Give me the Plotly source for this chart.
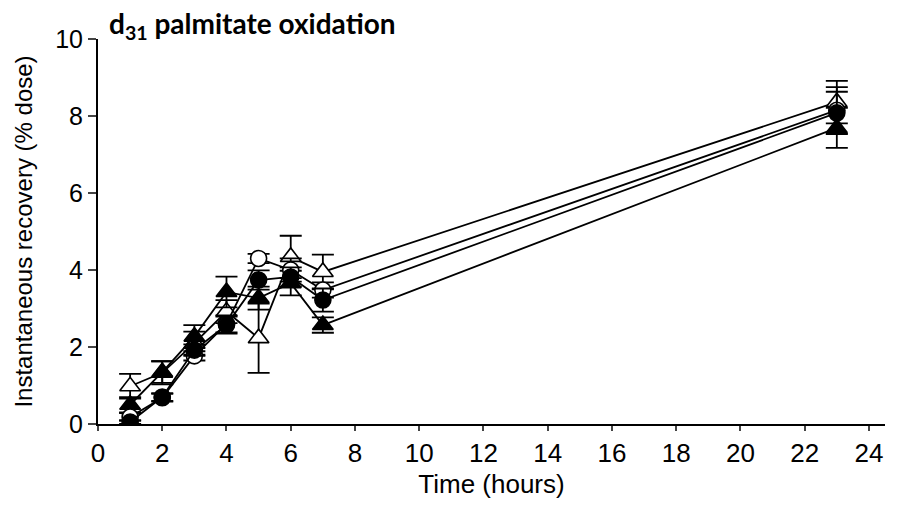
import plotly.graph_objects as go

# Sampling times (hours)
time_h = [1, 2, 3, 4, 5, 6, 7, 23]

# Instantaneous recovery (% dose), mean and SE for each group
open_circle = [0.18, 0.68, 1.77, 2.60, 4.30, 4.00, 3.48, 8.15]
open_circle_err = [0.10, 0.10, 0.12, 0.22, 0.12, 0.30, 0.20, 0.60]

filled_circle = [0.05, 0.70, 1.92, 2.57, 3.74, 3.82, 3.22, 8.08]
filled_circle_err = [0.05, 0.10, 0.15, 0.22, 0.25, 0.25, 0.30, 0.55]

open_triangle = [0.98, 1.33, 2.10, 2.92, 2.23, 4.34, 3.95, 8.36]
open_triangle_err = [0.32, 0.30, 0.30, 0.30, 0.90, 0.55, 0.45, 0.55]

filled_triangle = [0.50, 1.35, 2.27, 3.43, 3.27, 3.66, 2.57, 7.69]
filled_triangle_err = [0.20, 0.28, 0.30, 0.40, 0.30, 0.32, 0.20, 0.52]

x_ticks = list(range(0, 25, 2))
y_ticks = list(range(0, 11, 2))

series = [
    ("Open triangle", open_triangle, open_triangle_err, "triangle-up", "white"),
    ("Filled triangle", filled_triangle, filled_triangle_err, "triangle-up", "black"),
    ("Open circle", open_circle, open_circle_err, "circle", "white"),
    ("Filled circle", filled_circle, filled_circle_err, "circle", "black"),
]

fig = go.Figure()
for name, vals, errs, sym, fill in series:
    fig.add_trace(go.Scatter(
        x=time_h, y=vals, name=name, mode="lines+markers",
        line=dict(color="black", width=1.8),
        marker=dict(symbol=sym, size=16 if sym == "circle" else 18, color=fill,
                    line=dict(color="black", width=1.6)),
        error_y=dict(type="data", array=errs, visible=True,
                     color="black", thickness=1.8, width=11),
        showlegend=False,
    ))

fig.update_layout(
    width=897, height=532,
    paper_bgcolor="white", plot_bgcolor="white",
    margin=dict(l=98, r=12, t=39, b=108),
    font=dict(family="Liberation Sans, Arial, sans-serif", color="black"),
    annotations=[dict(
        text="<b>d<sub>31</sub> palmitate oxidation</b>",
        xref="paper", yref="paper", x=0.011, y=1.0, xanchor="left", yanchor="bottom",
        showarrow=False, yshift=-7,
        font=dict(family="Lato, sans-serif", size=28, color="black"),
    )],
)
fig.update_xaxes(
    range=[0, 24.5], tickvals=x_ticks, ticks="outside", ticklen=5, tickwidth=1.5,
    showline=True, linecolor="black", linewidth=2, showgrid=False, zeroline=False,
    tickfont=dict(size=26),
    title=dict(text="Time (hours)", font=dict(size=26), standoff=8),
)
fig.update_yaxes(
    range=[0, 10], tickvals=y_ticks, ticks="outside", ticklen=8, tickwidth=1.5,
    showline=True, linecolor="black", linewidth=2, showgrid=False, zeroline=False,
    tickfont=dict(size=25),
    title=dict(text="Instantaneous recovery (% dose)", font=dict(size=24), standoff=16),
)

fig.write_html("out.html")
